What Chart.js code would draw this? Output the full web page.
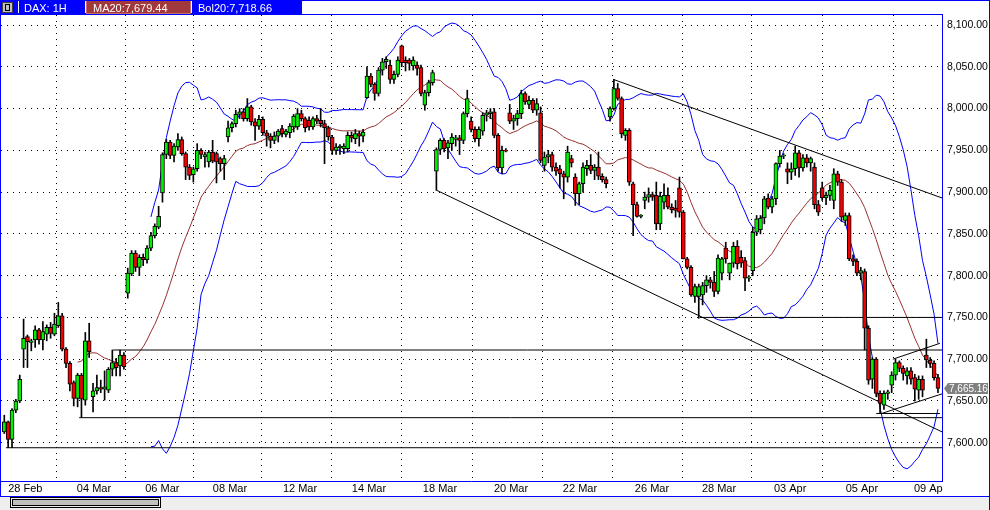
<!DOCTYPE html>
<html><head><meta charset="utf-8">
<style>html,body{margin:0;padding:0;background:#fff;overflow:hidden}canvas{display:block}</style>
</head><body>
<canvas id="c" width="990" height="510"></canvas>
<script src="https://cdn.jsdelivr.net/npm/chart.js@4/dist/chart.umd.min.js"></script>
<script>
// ---------- data ----------
const symbolText = 'DAX: 1H';
const maText = 'MA20:7,679.44';
const bolText = 'Bol20:7,718.66';
const dayLabels = ['28 Feb','04 Mar','06 Mar','08 Mar','12 Mar','14 Mar','18 Mar','20 Mar','22 Mar','26 Mar','28 Mar','03 Apr','05 Apr','09 Apr'];
const dayTickIdx = [4.67,22.47,40.18,57.72,75.87,93.75,112.15,130.56,148.44,167.1,184.47,202.9,221.5,239.2];
const yTicks = [7600,7650,7700,7750,7800,7850,7900,7950,8000,8050,8100];

const opens = [
7613,7625,7604,7639,7650,7712,7727,7720,7723,7735,
7723,7730,7738,7730,7740,7752,7712,7695,7672,7653,
7681,7651,7722,7655,7662,7666,7664,7663,7688,7696,
7692,7705,7779,7802,7827,7810,7822,7819,7833,7848,
7858,7899,7945,7960,7944,7954,7963,7946,7930,7921,
7928,7950,7942,7936,7948,7946,7940,7934,7966,7977,
7982,7993,7996,7988,8002,7984,7979,7987,7971,7967,
7962,7967,7976,7969,7971,7978,7978,7994,7988,7986,
7978,7988,7986,7982,7977,7966,7950,7953,7952,7952,
7968,7964,7970,7967,8013,8039,8029,8018,8046,8056,
8052,8035,8041,8075,8058,8058,8051,8052,8049,8004,
8019,8031,7925,7951,7962,7953,7958,7963,7965,7962,
7994,7985,7975,7964,7973,7992,7994,7996,7968,7929,
7950,7995,7985,7988,7994,8018,8005,8010,7998,7995,
7932,7942,7945,7930,7928,7922,7918,7940,7918,7898,
7910,7928,7932,7926,7930,7919,7915,7990,8000,8024,
8012,7968,7974,7910,7885,7871,7890,7894,7897,7896,
7862,7888,7896,7882,7881,7905,7876,7820,7810,7775,
7775,7777,7788,7795,7792,7781,7803,7833,7803,7815,
7835,7822,7818,7797,7806,7852,7855,7869,7893,7882,
7892,7934,7943,7928,7924,7928,7947,7929,7941,7935,
7930,7885,7905,7893,7896,7890,7922,7912,7866,7872,
7820,7817,7803,7805,7737,7676,7700,7659,7645,7659,
7669,7681,7696,7689,7680,7686,7678,7663,7676,7705,
7699,7695,7678];
const highs = [
7633,7626,7641,7652,7681,7748,7729,7724,7740,7737,
7745,7741,7744,7755,7768,7755,7714,7697,7674,7683,
7683,7732,7743,7671,7681,7675,7686,7690,7711,7701,
7711,7708,7809,7830,7830,7825,7826,7836,7852,7862,
7883,7947,7963,7962,7958,7970,7966,7948,7933,7930,
7958,7952,7948,7950,7962,7948,7942,7944,7985,7984,
7998,8000,8000,8012,8004,7988,7992,7990,7974,7970,
7972,7975,7980,7975,7982,7993,8000,7998,7990,7990,
7990,7992,8000,7986,7979,7968,7958,7957,7958,7972,
7972,7975,7973,7975,8050,8042,8031,8049,8060,8062,
8058,8045,8062,8076,8062,8060,8062,8056,8052,8022,
8034,8046,7953,7964,7964,7962,7970,7968,7968,7996,
8022,7990,7978,7978,7995,7998,8000,8000,7970,7955,
7952,8005,7992,7998,8022,8020,8015,8012,8012,8002,
7948,7950,7948,7935,7932,7925,7955,7944,7922,7912,
7935,7938,7945,7933,7948,7922,7918,8002,8035,8030,
8014,7976,7976,7912,7888,7873,7900,7905,7900,7912,
7900,7910,7905,7886,7890,7918,7878,7822,7812,7790,
7790,7792,7800,7798,7805,7825,7822,7840,7815,7840,
7842,7830,7822,7800,7858,7872,7872,7895,7898,7895,
7935,7950,7946,7935,7935,7955,7950,7945,7945,7942,
7935,7890,7912,7900,7908,7928,7925,7915,7875,7875,
7825,7820,7810,7808,7740,7702,7702,7662,7662,7663,
7685,7700,7698,7692,7690,7690,7682,7680,7680,7724,
7702,7698,7682];
const lows = [
7611,7594,7594,7636,7648,7690,7690,7710,7714,7718,
7711,7722,7725,7728,7738,7710,7690,7662,7644,7643,
7630,7645,7702,7637,7658,7660,7651,7660,7680,7680,
7680,7688,7773,7800,7805,7800,7812,7815,7830,7845,
7856,7888,7940,7940,7936,7950,7944,7915,7915,7912,
7925,7940,7930,7930,7935,7911,7925,7915,7960,7972,
7978,7988,7985,7985,7980,7962,7975,7968,7955,7953,
7958,7960,7966,7966,7965,7972,7975,7985,7972,7974,
7975,7982,7978,7934,7962,7945,7945,7945,7946,7948,
7960,7958,7955,7960,8012,8026,8010,8015,8040,8048,
8030,8030,8038,8050,8045,8046,8046,8040,8015,7998,
8015,8028,7902,7945,7948,7940,7950,7955,7945,7958,
7990,7972,7960,7955,7968,7985,7988,7965,7925,7922,
7948,7982,7975,7980,7988,8005,8000,7995,7992,7935,
7925,7935,7925,7920,7905,7892,7912,7930,7884,7885,
7900,7920,7922,7915,7915,7912,7905,7985,7998,8010,
7965,7962,7908,7848,7870,7869,7880,7888,7890,7855,
7855,7880,7880,7875,7870,7870,7820,7808,7775,7768,
7749,7765,7780,7785,7775,7778,7795,7815,7795,7810,
7808,7810,7782,7793,7800,7848,7850,7862,7880,7875,
7885,7930,7940,7910,7915,7920,7918,7925,7930,7925,
7880,7872,7890,7885,7890,7880,7908,7865,7860,7818,
7812,7800,7795,7711,7670,7665,7655,7636,7640,7652,
7660,7675,7685,7675,7670,7670,7650,7652,7655,7690,
7690,7675,7660];
const closes = [
7625,7604,7639,7650,7676,7725,7721,7722,7735,7723,
7733,7738,7731,7742,7752,7712,7695,7670,7653,7681,
7652,7722,7709,7662,7666,7664,7667,7688,7696,7690,
7705,7691,7803,7827,7810,7822,7819,7833,7848,7859,
7871,7945,7960,7944,7955,7963,7946,7930,7920,7928,
7950,7945,7945,7948,7937,7936,7934,7940,7977,7982,
7993,7996,7988,8002,7984,7979,7987,7971,7967,7962,
7967,7973,7970,7973,7979,7991,7994,7988,7977,7978,
7988,7985,7982,7977,7966,7950,7954,7955,7955,7968,
7965,7970,7967,7972,8039,8029,8018,8046,8056,8059,
8035,8041,8058,8055,8055,8054,8058,8048,8018,8019,
8031,8043,7951,7962,7952,7959,7966,7965,7962,7994,
8012,7975,7964,7975,7992,7995,7996,7968,7929,7950,
7949,7985,7988,7994,8018,8008,8010,7998,8006,7938,
7942,7945,7930,7925,7922,7918,7948,7935,7898,7910,
7930,7932,7926,7930,7919,7915,7910,8000,8024,8012,
7970,7974,7912,7885,7871,7871,7894,7897,7894,7862,
7895,7896,7882,7879,7878,7876,7820,7810,7777,7787,
7787,7788,7795,7792,7781,7821,7820,7820,7815,7835,
7814,7815,7797,7797,7852,7868,7869,7892,7882,7892,
7934,7943,7943,7924,7928,7947,7929,7941,7935,7940,
7885,7876,7893,7896,7902,7922,7912,7870,7872,7820,
7817,7803,7806,7737,7675,7700,7659,7647,7659,7661,
7681,7696,7689,7683,7686,7676,7664,7676,7663,7699,
7695,7678,7665.16];
const lastPriceText = '7,665.16';

// drawn trend lines (bar index, price)
const channelLowerX = [112.15, 243.05], channelLowerY = [7902, 7613];
const channelUpperX = [157.8, 243.05], channelUpperY = [8035, 7893];
const levelFromX = [28.2, 19.4, 0.44, 180.3], levelPrice = [7711, 7630, 7594, 7750];
const shortLevelX = [226.0, 242.5], shortLevelY = [7635, 7635];
const flagUpperX = [230.3, 242.5], flagUpperY = [7700, 7719];
const flagLowerX = [227.4, 243.4], flagLowerY = [7635, 7659];

// ---------- derived ----------
const period = 20, bandK = 2;
const xMin = -0.855, xMax = 243.05;
const N = closes.length;
const idx = closes.map((_, i) => i);
const ma = closes.map((_, i) => {
  if (i < period - 1) return null;
  let s = 0; for (let k = i - period + 1; k <= i; k++) s += closes[k];
  return s / period;
});
const sd = closes.map((_, i) => {
  if (i < period - 1) return null;
  let s = 0; for (let k = i - period + 1; k <= i; k++) s += (closes[k] - ma[i]) ** 2;
  return Math.sqrt(s / period);
});
const bandStart = 2 * (period - 1);
const upper = idx.map(i => i >= bandStart ? ma[i] + bandK * sd[i] : null);
const lower = idx.map(i => i >= bandStart ? ma[i] - bandK * sd[i] : null);

const seg = (xs, ys) => xs.map((x, i) => ({x, y: ys[i]}));
const lineDs = (data, color, order) => ({type: 'line', data, borderColor: color, borderWidth: 1, pointRadius: 0, tension: 0, fill: false, spanGaps: false, order});

const trendSets = [
  lineDs(seg(channelLowerX, channelLowerY), '#000', 2),
  lineDs(seg(channelUpperX, channelUpperY), '#000', 2),
  lineDs(seg(shortLevelX, shortLevelY), '#000', 2),
  lineDs(seg(flagUpperX, flagUpperY), '#000', 2),
  lineDs(seg(flagLowerX, flagLowerY), '#000', 2),
  ...levelFromX.map((fx, k) => lineDs([{x: fx, y: levelPrice[k]}, {x: xMax, y: levelPrice[k]}], '#000', 2))
];

const fmt = v => v.toLocaleString('en-US', {minimumFractionDigits: 2, maximumFractionDigits: 2});
const FONT = 'Liberation Sans';
Chart.defaults.font.family = FONT;

const decor = {
  id: 'decor',
  beforeDraw(chart) {
    const ctx = chart.ctx;
    ctx.save();
    ctx.fillStyle = '#fff'; ctx.fillRect(0, 0, 990, 510);
    ctx.restore();
  },
  afterDraw(chart) {
    const ctx = chart.ctx;
    ctx.save();
    // clip x labels beyond plot
    ctx.fillStyle = '#fff'; ctx.fillRect(943, 482, 46, 14);
    // header
    ctx.fillStyle = '#0000ff'; ctx.fillRect(0, 0, 302, 14);
    ctx.fillStyle = '#a0383c'; ctx.fillRect(86, 0, 105, 14);
    ctx.strokeStyle = '#c87070'; ctx.lineWidth = 1; ctx.strokeRect(86.5, 0.5, 104, 13);
    ctx.fillStyle = '#fff';
    ctx.fillRect(18, 1, 1, 12); ctx.fillRect(85, 1, 1, 12); ctx.fillRect(191, 1, 1, 12);
    // icon
    ctx.fillStyle = '#c0c0c0'; ctx.fillRect(2, 2, 11, 11);
    ctx.strokeStyle = '#404040'; ctx.strokeRect(2.5, 2.5, 10, 10);
    ctx.fillStyle = '#000'; ctx.fillRect(5, 4, 5, 7);
    ctx.fillStyle = '#c0c0c0'; ctx.fillRect(6, 5, 3, 5);
    ctx.fillStyle = '#fff'; ctx.font = '11px "' + FONT + '"'; ctx.textBaseline = 'alphabetic'; ctx.textAlign = 'left';
    ctx.fillText(symbolText, 24, 12);
    ctx.fillText(maText, 93, 12);
    ctx.fillText(bolText, 198, 12);
    // bottom strip
    ctx.fillStyle = '#eeeeee'; ctx.fillRect(0, 497, 990, 13);
    ctx.strokeStyle = '#000';
    ctx.strokeRect(10.5, 497.5, 150, 10);
    ctx.fillStyle = '#c0c0c0'; ctx.fillRect(12, 499, 147, 7);
    ctx.strokeRect(12.5, 499.5, 146, 6);
    // frame lines
    ctx.strokeStyle = '#0000ff';
    const L = (x1, y1, x2, y2) => { ctx.beginPath(); ctx.moveTo(x1, y1); ctx.lineTo(x2, y2); ctx.stroke(); };
    L(0, 0.5, 990, 0.5);
    L(0.5, 0, 0.5, 497);
    L(0, 14.5, 943, 14.5);
    L(942.5, 14, 942.5, 482);
    L(0, 481.5, 943, 481.5);
    L(0, 496.5, 990, 496.5);
    L(989.5, 0, 989.5, 510);
    // last price tag
    const yv = Math.round(chart.scales.y.getPixelForValue(closes[N - 1])) + 0.5;
    ctx.fillStyle = '#808080';
    ctx.beginPath(); ctx.moveTo(944, yv); ctx.lineTo(948, yv - 5.5); ctx.lineTo(988, yv - 5.5); ctx.lineTo(988, yv + 5.5); ctx.lineTo(948, yv + 5.5); ctx.closePath(); ctx.fill();
    ctx.fillStyle = '#fff'; ctx.font = '10px "' + FONT + '"'; ctx.textBaseline = 'middle';
    ctx.fillText(lastPriceText, 949, yv + 0.5);
    ctx.restore();
  }
};

new Chart(document.getElementById('c'), {
  type: 'bar',
  data: {
    datasets: [
      {type: 'bar', data: idx.map(i => ({x: i, y: [Math.min(opens[i], closes[i]), Math.max(opens[i], closes[i])]})),
       backgroundColor: idx.map(i => closes[i] >= opens[i] ? '#00f000' : '#f00000'),
       borderColor: '#000', borderWidth: 1, borderSkipped: false, barThickness: 4, minBarLength: 1, grouped: false, order: 0},
      {type: 'bar', data: idx.map(i => ({x: i, y: [lows[i], highs[i]]})),
       backgroundColor: '#000', borderWidth: 0, barThickness: 1, grouped: false, order: 1},
      ...trendSets,
      lineDs(idx.map(i => ({x: i, y: ma[i]})), '#9a3030', 3),
      lineDs(idx.map(i => ({x: i, y: upper[i]})), '#0000ff', 4),
      lineDs(idx.map(i => ({x: i, y: lower[i]})), '#0000ff', 4)
    ]
  },
  options: {
    responsive: false, animation: false, events: [],
    layout: {padding: {left: 1, top: 15, right: 1, bottom: 0}},
    plugins: {legend: {display: false}, tooltip: {enabled: false}, title: {display: false}},
    scales: {
      x: {type: 'linear', min: xMin, max: xMax, offset: false,
        afterBuildTicks: ax => { ax.ticks = dayTickIdx.map(v => ({value: v})); },
        afterFit: ax => { ax.height = 28; },
        grid: {color: '#000', drawTicks: false, lineWidth: 1},
        border: {display: false, dash: [1, 5]},
        ticks: {autoSkip: false, maxRotation: 0, padding: 0, labelOffset: 3, color: '#000', font: {size: 11},
          callback: (v, i) => dayLabels[i]}
      },
      y: {type: 'linear', position: 'right', min: 7553, max: 8112,
        afterBuildTicks: ax => { ax.ticks = yTicks.map(v => ({value: v})); },
        afterFit: ax => { ax.width = 47; },
        grid: {color: '#000', drawTicks: false, lineWidth: 1},
        border: {display: false, dash: [1, 5]},
        ticks: {padding: 5, color: '#000', font: {size: 10.5}, callback: v => fmt(v)}
      }
    }
  },
  plugins: [decor]
});
</script>
</body></html>
